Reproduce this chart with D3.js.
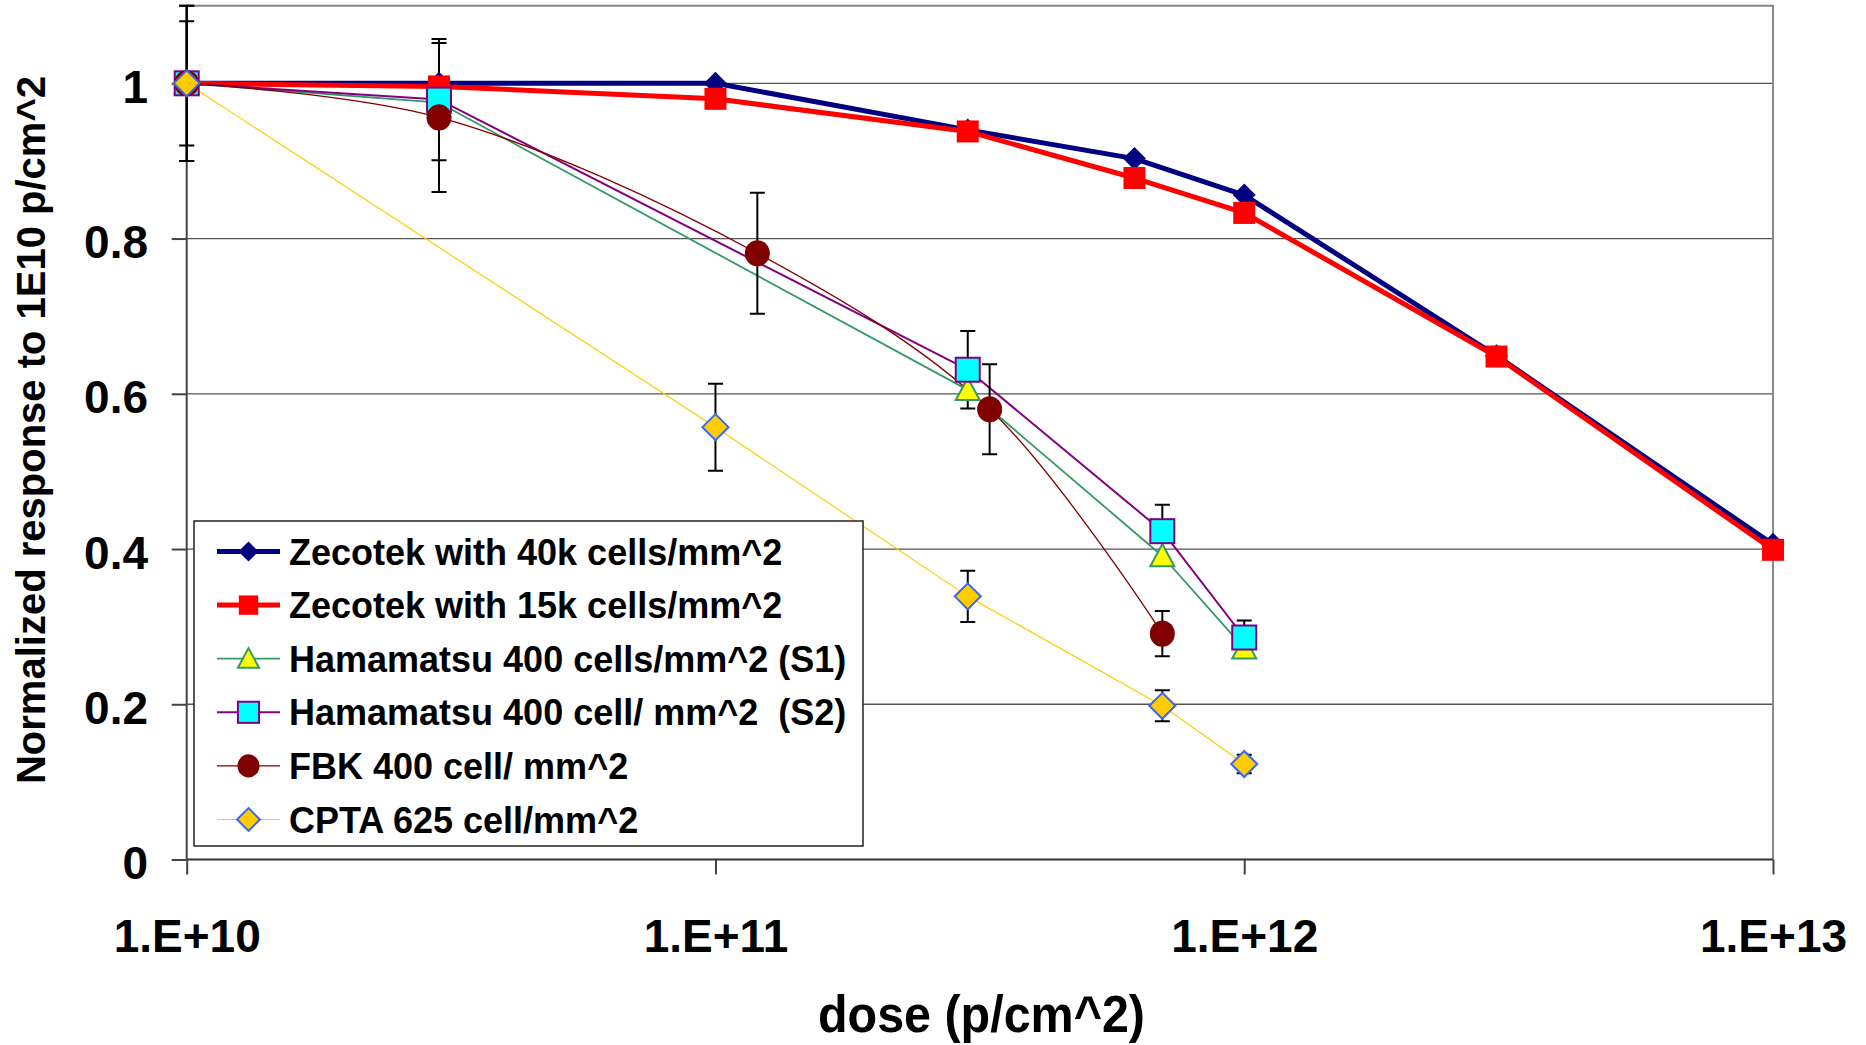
<!DOCTYPE html>
<html>
<head>
<meta charset="utf-8">
<script src="https://cdn.jsdelivr.net/npm/d3@7"></script>
<style>
  html, body { margin: 0; padding: 0; background: #fff; }
  svg { display: block; font-family: "Liberation Sans", Arial, sans-serif; font-weight: bold; }
</style>
</head>
<body>
<svg id="chart" width="1866" height="1045"></svg>
<script>
// axis ticks
let xTicks = [1e10, 1e11, 1e12, 1e13]
let xTickLabels = ["1.E+10", "1.E+11", "1.E+12", "1.E+13"]
let yTicks = [0, 0.2, 0.4, 0.6, 0.8, 1]
let yTickLabels = ["0", "0.2", "0.4", "0.6", "0.8", "1"]

// series
let zec40Dose = [1e10, 3e10, 1e11, 3e11, 6.2e11, 1e12, 3e12, 1e13]
let zec40Resp = [1, 1, 1, 0.94, 0.903, 0.856, 0.649, 0.406]
let zec15Dose = [1e10, 3e10, 1e11, 3e11, 6.2e11, 1e12, 3e12, 1e13]
let zec15Resp = [1, 0.996, 0.98, 0.938, 0.878, 0.833, 0.648, 0.399]
let hamS1Dose = [1e10, 3e10, 3e11, 7e11, 1e12]
let hamS1Resp = [1, 0.975, 0.605, 0.391, 0.272]
let hamS2Dose = [1e10, 3e10, 3e11, 7e11, 1e12]
let hamS2Resp = [1, 0.979, 0.631, 0.423, 0.286]
let hamS2Err = [0.08, 0.078, 0.05, 0.034, 0.022]
let fbkDose = [1e10, 3e10, 1.2e11, 3.3e11, 7e11]
let fbkResp = [1, 0.956, 0.781, 0.58, 0.291]
let fbkErr = [0.1, 0.096, 0.078, 0.058, 0.029]
let cptaDose = [1e10, 1e11, 3e11, 7e11, 1e12]
let cptaResp = [1, 0.557, 0.339, 0.198, 0.123]
let cptaErr = [0.1, 0.056, 0.033, 0.02, 0.012]

let seriesNames = [
    "Zecotek with 40k cells/mm^2",
    "Zecotek with 15k cells/mm^2",
    "Hamamatsu 400 cells/mm^2 (S1)",
    "Hamamatsu 400 cell/ mm^2  (S2)",
    "FBK 400 cell/ mm^2",
    "CPTA 625 cell/mm^2"
]

let marginLeft = 186.7, marginRight = 93, marginTop = 5.7, marginBottom = 185.5
let width = 1866, height = 1045

let svg = d3.select("#chart")
let x = d3.scaleLog().domain([1e10, 1e13]).range([marginLeft, width - marginRight])
let y = d3.scaleLinear().domain([0, 1.1]).range([height - marginBottom, marginTop])

let series = [
    {name: seriesNames[0], dose: zec40Dose, resp: zec40Resp, line: "#000080", lw: 5, marker: "diamond", fill: "#000080", stroke: "none", size: 11.5},
    {name: seriesNames[1], dose: zec15Dose, resp: zec15Resp, line: "#ff0000", lw: 5, marker: "square", fill: "#ff0000", stroke: "none", size: 11},
    {name: seriesNames[2], dose: hamS1Dose, resp: hamS1Resp, line: "#339966", lw: 1.8, marker: "triangle", fill: "#ffff00", stroke: "#339966", size: 12},
    {name: seriesNames[3], dose: hamS2Dose, resp: hamS2Resp, err: hamS2Err, line: "#800080", lw: 2, marker: "square", fill: "#00ffff", stroke: "#800080", size: 12},
    {name: seriesNames[4], dose: fbkDose, resp: fbkResp, err: fbkErr, line: "#800000", lw: 1.3, marker: "circle", fill: "#800000", stroke: "none", size: 12.5, smooth: true},
    {name: seriesNames[5], dose: cptaDose, resp: cptaResp, err: cptaErr, line: "#ffcc00", lw: 1.2, marker: "diamond", fill: "#ffcc00", stroke: "#3366ff", size: 13}
]

// plot frame + grid
let grid = svg.append("g")
grid.selectAll("line")
    .data(yTicks.filter(d => d > 0))
    .join("line")
    .attr("x1", x.range()[0]).attr("x2", x.range()[1])
    .attr("y1", d => y(d)).attr("y2", d => y(d))
    .attr("stroke", "#555").attr("stroke-width", 1.3)
svg.append("path")
    .attr("d", `M${x.range()[0]},${y(1.1)}H${x.range()[1]}V${y(0)}`)
    .attr("fill", "none").attr("stroke", "#888").attr("stroke-width", 2)

// axes
let TICK = 15
let axisY = svg.append("g").attr("transform", `translate(${x.range()[0]},0)`)
    .call(d3.axisLeft(y).tickValues(yTicks).tickSize(TICK).tickFormat((d, i) => yTickLabels[i]))
let axisX = svg.append("g").attr("transform", `translate(0,${y(0)})`)
    .call(d3.axisBottom(x).tickValues(xTicks).tickSize(TICK).tickFormat((d, i) => xTickLabels[i]))
for (let ax of [axisY, axisX]) {
    ax.select(".domain").remove()
    ax.selectAll(".tick line").attr("stroke", "#444").attr("stroke-width", 2)
    ax.selectAll(".tick text")
        .attr("font-family", "'Liberation Sans', Arial, sans-serif")
        .attr("font-weight", "bold").attr("font-size", 46).attr("fill", "#000")
}
axisY.selectAll(".tick text").attr("x", -38.7).attr("dy", null).attr("y", 19)
axisX.selectAll(".tick text").attr("dy", null).attr("y", 92)
svg.append("line")
    .attr("x1", x.range()[0]).attr("x2", x.range()[0])
    .attr("y1", y(1.1)).attr("y2", y(0))
    .attr("stroke", "#444").attr("stroke-width", 2)
svg.append("line")
    .attr("x1", x.range()[0]).attr("x2", x.range()[1])
    .attr("y1", y(0)).attr("y2", y(0))
    .attr("stroke", "#333").attr("stroke-width", 2)

// titles
svg.append("text")
    .attr("transform", "translate(45,430) rotate(-90)")
    .attr("text-anchor", "middle").attr("font-size", 40)
    .text("Normalized response to 1E10 p/cm^2")
svg.append("text")
    .attr("x", 818).attr("y", 1032)
    .attr("font-size", 52)
    .attr("textLength", 327).attr("lengthAdjust", "spacingAndGlyphs")
    .text("dose (p/cm^2)")

// lines
let plot = svg.append("g")
for (let s of series) {
    let pts = s.dose.map((d, i) => [x(d), y(s.resp[i])])
    let line = d3.line().curve(s.smooth ? d3.curveCatmullRom : d3.curveLinear)
    plot.append("path")
        .attr("d", line(pts))
        .attr("fill", "none").attr("stroke", s.line).attr("stroke-width", s.lw)
        .attr("stroke-linejoin", "round")
}

// error bars
let CAP = 7.5
for (let s of series.filter(s => s.err)) {
    let eb = plot.append("g").attr("stroke", "#000").attr("stroke-width", 2)
    s.dose.forEach((d, i) => {
        let cx = x(d), top = y(Math.min(s.resp[i] + s.err[i], 1.1)), bot = y(s.resp[i] - s.err[i])
        eb.append("path")
            .attr("d", `M${cx},${top}V${bot}M${cx - CAP},${top}H${cx + CAP}M${cx - CAP},${bot}H${cx + CAP}`)
    })
}

// markers
function drawMarker(g, s, cx, cy, k = 1) {
    let r = s.size * k, el
    if (s.marker == "diamond") {
        el = g.append("path").attr("d", `M${cx},${cy - r}L${cx + r},${cy}L${cx},${cy + r}L${cx - r},${cy}Z`)
    } else if (s.marker == "square") {
        el = g.append("rect").attr("x", cx - r).attr("y", cy - r).attr("width", 2 * r).attr("height", 2 * r)
    } else if (s.marker == "triangle") {
        el = g.append("path").attr("d", `M${cx},${cy - r}L${cx + r},${cy + r * 0.85}L${cx - r},${cy + r * 0.85}Z`)
    } else {
        el = g.append("ellipse").attr("cx", cx).attr("cy", cy).attr("rx", r).attr("ry", r * 1.05)
    }
    el.attr("fill", s.fill).attr("stroke", s.stroke).attr("stroke-width", s.stroke == "none" ? 0 : 2)
}
for (let s of series) {
    let g = plot.append("g")
    s.dose.forEach((d, i) => drawMarker(g, s, x(d), y(s.resp[i])))
}

// legend
let legend = svg.append("g").attr("transform", "translate(194,521)")
legend.append("rect")
    .attr("width", 669).attr("height", 325)
    .attr("fill", "#fff").attr("stroke", "#222").attr("stroke-width", 1.5)
series.forEach((s, i) => {
    let ly = 30.5 + i * 53.6
    let row = legend.append("g")
    row.append("line")
        .attr("x1", 23).attr("x2", 86).attr("y1", ly).attr("y2", ly)
        .attr("stroke", s.line).attr("stroke-width", s.lw)
    drawMarker(row, s, 54.5, ly, 0.88)
    row.append("text")
        .attr("x", 95).attr("y", ly + 13)
        .attr("font-size", 36)
        .style("white-space", "pre")
        .text(s.name)
})
</script>
</body>
</html>
